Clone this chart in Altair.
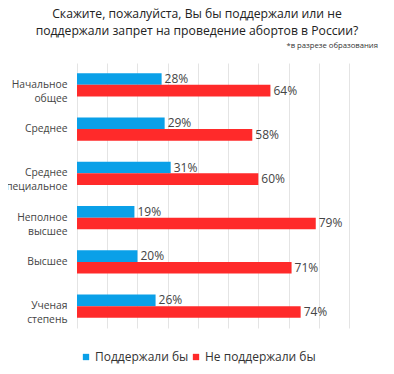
import altair as alt
import pandas as pd

categories = ["Начальное|общее", "Среднее", "Среднее|специальное", "Неполное|высшее", "Высшее", "Ученая|степень"]
series = ["Поддержали бы", "Не поддержали бы"]
support = [28, 29, 31, 19, 20, 26]
oppose = [64, 58, 60, 79, 71, 74]
colors = ["#0AA0E8", "#FF2A2A"]

rows = []
for c, s, o in zip(categories, support, oppose):
    rows.append({"cat": c, "series": series[0], "value": s})
    rows.append({"cat": c, "series": series[1], "value": o})
df = pd.DataFrame(rows)

FONT = "Open Sans"

base = alt.Chart(df).encode(
    y=alt.Y("cat:N", sort=categories,
            scale=alt.Scale(paddingInner=0.475, paddingOuter=0.23),
            axis=alt.Axis(title=None, domain=False, ticks=False, labelPadding=10,
                          labelExpr="split(datum.label, '|')", labelFontSize=10.3,
                          labelColor="#444", labelFont=FONT, labelLineHeight=14)),
    yOffset=alt.YOffset("series:N", sort=series),
    x=alt.X("value:Q", scale=alt.Scale(domain=[0, 90], nice=False),
            axis=alt.Axis(title=None, labels=False, ticks=False, domain=False,
                          values=list(range(0, 100, 10)), grid=True,
                          gridColor="#e4e4e4")),
)

bars = base.mark_bar().encode(
    color=alt.Color("series:N", sort=series,
                    scale=alt.Scale(domain=series, range=colors),
                    legend=alt.Legend(title=None, orient="none", legendX=3, legendY=288,
                                      direction="horizontal", symbolType="square",
                                      symbolSize=40, labelFontSize=12, labelFont=FONT,
                                      labelColor="#333", columnPadding=1,
                                      labelOffset=3, symbolStrokeWidth=0)),
)

labels = base.mark_text(align="left", dx=3, fontSize=12, font=FONT, color="#444").encode(
    text=alt.Text("label:N")
).transform_calculate(label="datum.value + '%'")

note = alt.Chart(pd.DataFrame({"t": ["*в разрезе образования"]})).mark_text(
    align="right", fontSize=7.7, font=FONT, color="#333"
).encode(x=alt.value(301), y=alt.value(-17), text="t:N")

chart = alt.layer(bars, labels, note).properties(
    width=272, height=265,
    title=alt.TitleParams(
        text=["Скажите, пожалуйста, Вы бы поддержали или не",
              "поддержали запрет на проведение абортов в России?"],
        fontSize=12.2, font=FONT, fontWeight="normal", color="#222",
        anchor="middle", frame="group", dx=-16, offset=5, lineHeight=17),
    autosize=alt.AutoSizeParams(type="none"),
    padding={"left": 69, "top": 55, "right": 37, "bottom": 38},
).configure_view(stroke=None)

chart.save("out.html", embed_options={"renderer": "svg", "actions": False})
